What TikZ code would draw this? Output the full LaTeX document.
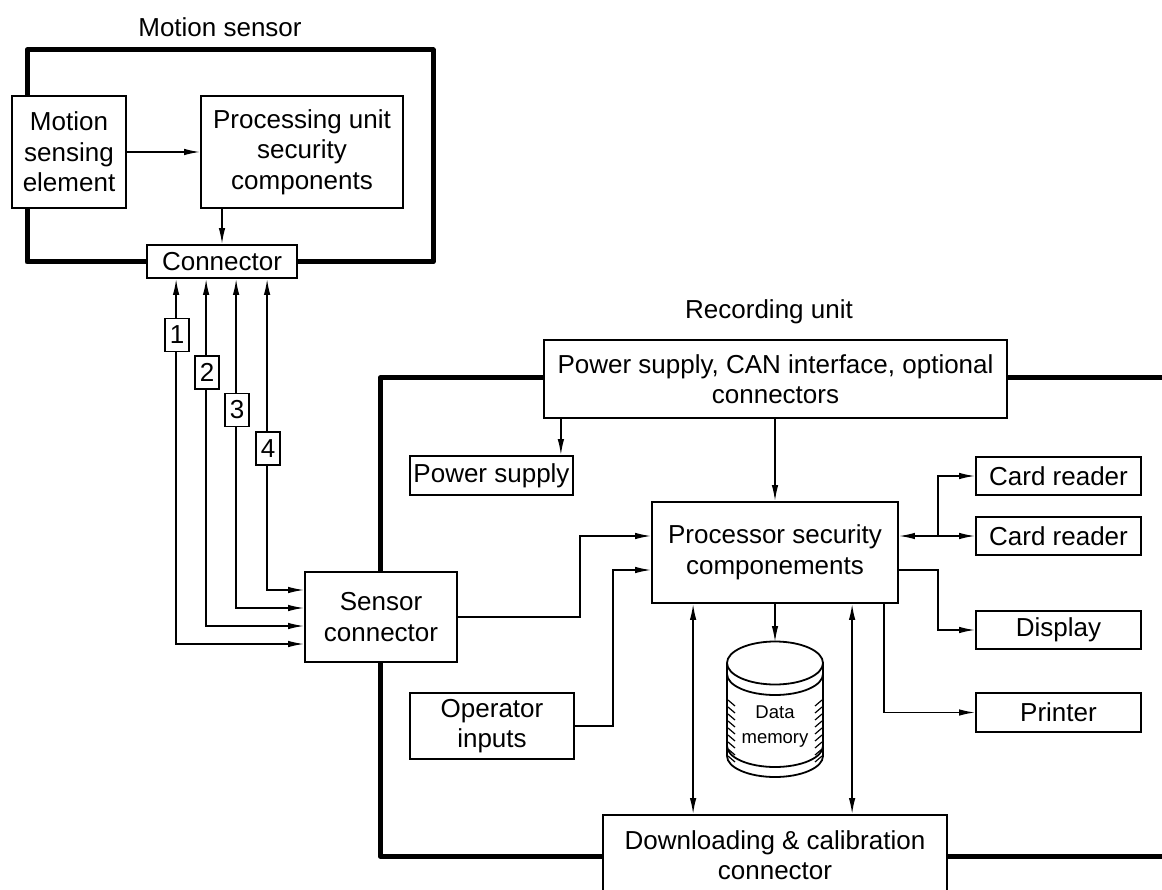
\documentclass[tikz,border=0pt]{standalone}
\usepackage{fontspec}
\setmainfont{Liberation Sans}
\usetikzlibrary{arrows.meta,calc}
\begin{document}
\begin{tikzpicture}[x=1pt,y=-1pt,
  box/.style={draw, line width=1.8pt, fill=white, align=center, inner sep=0pt,
    font=\fontsize{26}{30.5}\selectfont},
  lbl/.style={align=center, inner sep=0pt, font=\fontsize{26}{30.5}\selectfont},
  frame/.style={line width=5pt, line cap=round, line join=round},
  link/.style={line width=1.5pt},
  arr/.style={link, -{Latex[length=16pt,width=6.5pt]}},
  arrb/.style={link, {Latex[length=16pt,width=6.5pt]}-{Latex[length=16pt,width=6.5pt]}},
  numbox/.style={draw, line width=1.5pt, fill=white, inner sep=0pt,
    minimum width=24pt, minimum height=33pt, font=\fontsize{26}{30}\selectfont}
]
\useasboundingbox (0,0) rectangle (1162,890);
\clip (0,0) rectangle (1162,890);
\fill[white] (0,0) rectangle (1162,890);

% ---------- Motion sensor ----------
\node[lbl] (mstitle) at (220,27) {Motion sensor};
\draw[frame] (27,96) -- (27,50) -- (433,50) -- (433,262) -- (297,262);
\draw[frame] (147,262) -- (27,262) -- (27,208);

\node[box, minimum width=114pt, minimum height=112pt] (ms) at (69,152)
  {Motion\\sensing\\element};
\node[box, minimum width=202pt, minimum height=112pt] (pu) at (302,152)
  {Processing unit\\security\\components};
\node[box, minimum width=150pt, minimum height=33pt] (conn) at (222,261.5) {Connector};

\draw[arr] (ms) -- (pu);
\draw[arr] (conn.north |- pu.south) -- (conn.north);

% ---------- Recording unit ----------
\node[lbl, anchor=base] (rutitle) at (769,319) {Recording unit};
\draw[frame] (1162,378) -- (1007,378);
\draw[frame] (544,378) -- (380,378) -- (380,572);
\draw[frame] (380,662) -- (380,856) -- (603,856);
\draw[frame] (947,856) -- (1162,856);

\node[box, minimum width=152pt, minimum height=90pt] (sc) at (381,617) {Sensor\\connector};
\node[box, minimum width=463pt, minimum height=78pt] (pw) at (775.5,379)
  {Power supply, CAN interface, optional\\connectors};
\node[box, minimum width=163pt, minimum height=39pt] (ps) at (491.5,475.5) {Power supply};
\node[box, minimum width=246pt, minimum height=101pt] (proc) at (775,552.5)
  {Processor security\\componements};
\node[box, minimum width=164pt, minimum height=66pt] (op) at (492,726) {Operator\\inputs};
\node[box, minimum width=165pt, minimum height=38pt] (cr1) at (1058.5,476) {Card reader};
\node[box, minimum width=165pt, minimum height=38pt] (cr2) at (1058.5,536) {Card reader};
\node[box, minimum width=165pt, minimum height=38pt] (disp) at (1058.5,630) {Display};
\node[box, minimum width=165pt, minimum height=39pt] (prn) at (1058.5,712.5) {Printer};
\node[box, minimum width=344pt, minimum height=80pt] (dl) at (775,855)
  {Downloading \& calibration\\connector};

% sensor lines 1-4
\coordinate (c1) at ($(conn.south west)+(30,0)$);
\coordinate (c2) at ($(conn.south west)+(60,0)$);
\coordinate (c3) at ($(conn.south west)+(90,0)$);
\coordinate (c4) at ($(conn.south west)+(121,0)$);
\coordinate (s1) at ($(sc.west)+(0,27)$);
\coordinate (s2) at ($(sc.west)+(0,9)$);
\coordinate (s3) at ($(sc.west)+(0,-9)$);
\coordinate (s4) at ($(sc.west)+(0,-27)$);
\draw[arrb] (c1) |- (s1);
\draw[arrb] (c2) |- (s2);
\draw[arrb] (c3) |- (s3);
\draw[arrb] (c4) |- (s4);
\node[numbox] (n1) at (177,335) {1};
\node[numbox] (n2) at (207,372.5) {2};
\node[numbox] (n3) at (237,410) {3};
\node[numbox] (n4) at (268,448.5) {4};

% links into the processor
\coordinate (pin1) at ($(proc.west)+(0,-16.5)$);
\coordinate (pin2) at ($(proc.west)+(0,17.5)$);
\draw[arr] (sc.east) -- ++(122,0) |- (pin1);
\draw[arr] (op.east) -- ++(38,0) |- (pin2);

\coordinate (psin) at ($(ps.north east)+(-13,0)$);
\draw[arr] (pw.south -| psin) -- (psin);
\draw[arr] (pw.south -| proc.north) -- (proc.north);

% right side
\coordinate (pr1) at ($(proc.east)+(0,-16.5)$);
\coordinate (pr2) at ($(proc.east)+(0,17.5)$);
\coordinate (jn) at ($(pr1)+(39,0)$);
\draw[arrb] (pr1) -- (cr2.west);
\draw[arr] (jn) |- (cr1.west);
\draw[arr] (pr2) -- ++(39,0) |- (disp.west);
\draw[arr] ($(proc.south east)+(-15,0)$) |- (prn.west);

% processor <-> downloading
\coordinate (pb1) at ($(proc.south west)+(42,0)$);
\coordinate (pb2) at ($(proc.south west)+(201,0)$);
\draw[arrb] (pb1) -- (pb1 |- dl.north);
\draw[arrb] (pb2) -- (pb2 |- dl.north);

% data memory cylinder
\coordinate (memtop) at (775,642);
\draw[arr] (proc.south) -- (memtop);
\begin{scope}[line width=1.8pt]
  \fill[white] (727,663) -- (727,756) arc[start angle=180,end angle=0,x radius=48,y radius=21]
     -- (823,663) arc[start angle=0,end angle=-180,x radius=48,y radius=21.5] -- cycle;
  \draw (775,663) ellipse[x radius=48,y radius=21.5];
  \draw (727,663) -- (727,756) arc[start angle=180,end angle=0,x radius=48,y radius=21] -- (823,663);
  \draw (727,674) arc[start angle=180,end angle=0,x radius=48,y radius=21];
  \draw (727,746) arc[start angle=180,end angle=0,x radius=48,y radius=21];
\end{scope}
\foreach \yy in {700,707,...,756} {
  \draw[line width=1.2pt] (728,\yy) -- (735,\yy+6);
  \draw[line width=1.2pt] (822,\yy) -- (815,\yy+6);
}
\node[align=center, inner sep=0pt, font=\fontsize{18.5}{25}\selectfont] (mem) at (775,727)
  {Data\\memory};
\end{tikzpicture}
\end{document}
